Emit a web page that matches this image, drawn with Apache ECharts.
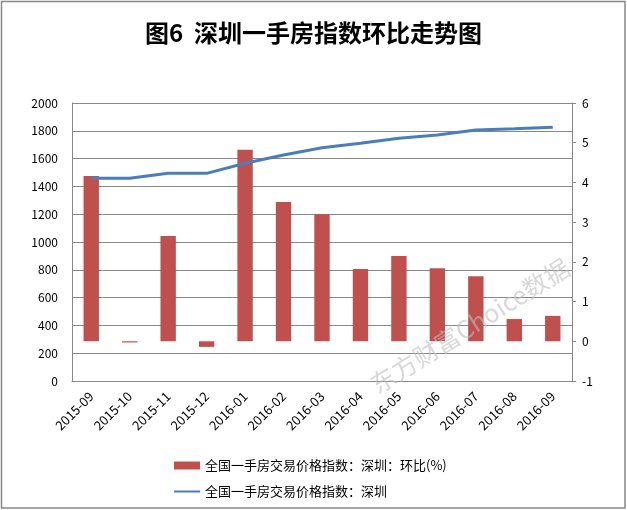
<!DOCTYPE html>
<html>
<head>
<meta charset="utf-8">
<script src="https://cdn.jsdelivr.net/npm/echarts@6/dist/echarts.min.js"></script>
<style>
html,body{margin:0;padding:0;background:#fff;}
#c{width:627px;height:510px;}
</style>
</head>
<body>
<div id="c"></div>
<script>
var titleText = '图6  深圳一手房指数环比走势图';
var categories = ['2015-09','2015-10','2015-11','2015-12','2016-01','2016-02','2016-03','2016-04','2016-05','2016-06','2016-07','2016-08','2016-09'];
var momName = '全国一手房交易价格指数：深圳：环比(%)';
var indexName = '全国一手房交易价格指数：深圳';
var momValues = [4.16, -0.03, 2.65, -0.14, 4.82, 3.51, 3.20, 1.82, 2.15, 1.84, 1.64, 0.56, 0.64];
var indexValues = [1458, 1458, 1494, 1494, 1566, 1626, 1678, 1710, 1746, 1770, 1806, 1815, 1825];
var leftTicks = {min: 0, max: 2000, interval: 200};
var rightTicks = {min: -1, max: 6, interval: 1};
var watermark = '东方财富Choice数据';

var font = '"Noto Sans CJK SC", "Microsoft YaHei", sans-serif';
var chart = echarts.init(document.getElementById('c'), null, {renderer: 'canvas'});
chart.setOption({
  backgroundColor: '#ffffff',
  animation: false,
  title: {
    text: titleText,
    left: 'center',
    top: 16,
    textStyle: {fontFamily: font, fontSize: 24, fontWeight: 'bold', color: '#000'}
  },
  grid: {left: 72, right: 55, top: 103, bottom: 129, containLabel: false},
  legend: {
    orient: 'vertical',
    left: 169,
    top: 454,
    itemWidth: 26,
    itemHeight: 8,
    itemGap: 13,
    textStyle: {fontFamily: font, fontSize: 13, color: '#000'},
    data: [
      {name: momName, icon: 'rect'},
      {name: indexName, icon: 'path://M0,0 M0,8 M0,3h26v2h-26z'}
    ]
  },
  xAxis: {
    type: 'category',
    data: categories,
    axisLine: {lineStyle: {color: '#888', width: 1}},
    axisTick: {show: false},
    axisLabel: {rotate: 45, fontFamily: font, fontSize: 13, color: '#000', margin: 13, interval: 0}
  },
  yAxis: [
    {
      type: 'value',
      min: leftTicks.min, max: leftTicks.max, interval: leftTicks.interval,
      position: 'left',
      axisLine: {show: true, lineStyle: {color: '#888'}},
      axisTick: {show: false},
      axisLabel: {fontFamily: font, fontSize: 12, color: '#000', margin: 14, formatter: function (v) { return String(v); }},
      splitLine: {show: true, lineStyle: {color: '#888', width: 1}}
    },
    {
      type: 'value',
      min: rightTicks.min, max: rightTicks.max, interval: rightTicks.interval,
      position: 'right',
      axisLine: {show: true, lineStyle: {color: '#888'}},
      axisTick: {show: true, length: 4, lineStyle: {color: '#888'}},
      axisLabel: {fontFamily: font, fontSize: 12, color: '#000', margin: 10, formatter: function (v) { return String(v); }},
      splitLine: {show: false}
    }
  ],
  series: [
    {
      name: momName,
      type: 'bar',
      yAxisIndex: 1,
      data: momValues,
      barWidth: '40%',
      itemStyle: {color: '#C0504D'}
    },
    {
      name: indexName,
      type: 'line',
      yAxisIndex: 0,
      data: indexValues,
      symbol: 'none',
      lineStyle: {color: '#4A7EBB', width: 3},
      itemStyle: {color: '#4A7EBB'}
    }
  ],
  graphic: [
    {
      type: 'rect',
      shape: {x: 1.5, y: 1.5, width: 623.5, height: 506.5},
      style: {fill: 'none', stroke: '#888', lineWidth: 1.5},
      silent: true,
      z: 100
    },
    {
      type: 'text',
      x: 470, y: 326,
      rotation: 32 * Math.PI / 180,
      style: {
        text: watermark,
        fontFamily: font,
        fontSize: 25,
        fill: 'rgba(190,190,190,0.6)',
        align: 'center',
        verticalAlign: 'middle'
      },
      silent: true,
      z: 100
    }
  ]
});
</script>
</body>
</html>
